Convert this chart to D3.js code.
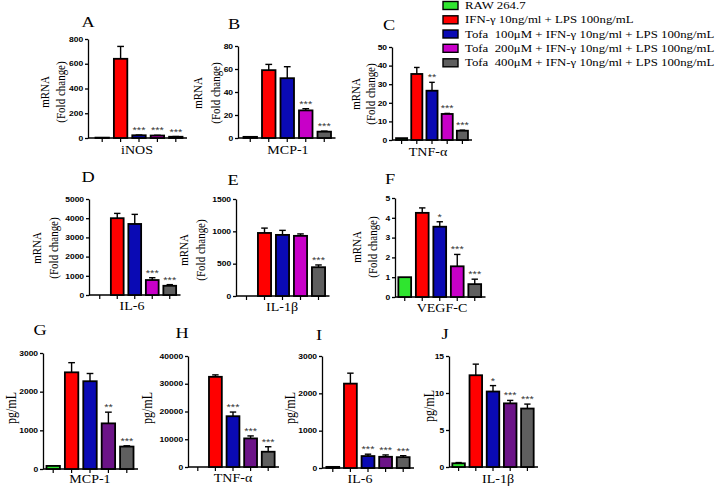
<!DOCTYPE html>
<html>
<head>
<meta charset="utf-8">
<script src="https://cdn.jsdelivr.net/npm/d3@7"></script>
<style>
  body { margin: 0; background: #fff; }
  text { white-space: pre; }
</style>
</head>
<body>
<div id="plot"></div>
<script>
// treatment groups (legend)
const groups = [
  "RAW 264.7",
  "IFN-γ 10ng/ml + LPS 100ng/mL",
  "Tofa  100μM + IFN-γ 10ng/ml + LPS 100ng/mL",
  "Tofa  200μM + IFN-γ 10ng/ml + LPS 100ng/mL",
  "Tofa  400μM + IFN-γ 10ng/ml + LPS 100ng/mL"
];

const panelIds = ["A", "B", "C", "D", "E", "F", "G", "H", "I", "J"];
const genes = ["iNOS", "MCP-1", "TNF-α", "IL-6", "IL-1β", "VEGF-C", "MCP-1", "TNF-α", "IL-6", "IL-1β"];
const units = ["mRNA", "mRNA", "mRNA", "mRNA", "mRNA", "mRNA", "pg/mL", "pg/mL", "pg/mL", "pg/mL"];
const yMax = [800, 80, 50, 5000, 1500, 5, 3000, 40000, 3000, 15];
const yStep = [200, 20, 10, 1000, 500, 1, 1000, 10000, 1000, 5];

// mean values, one row per panel, one value per group
const means = [
  [3, 640, 22, 20, 10],
  [1, 59, 52, 24, 5.5],
  [1, 35.5, 26.5, 14, 5],
  [0, 4000, 3700, 780, 480],
  [0, 975, 945, 930, 445],
  [1, 4.25, 3.55, 1.55, 0.65],
  [80, 2500, 2270, 1180, 580],
  [0, 32500, 18300, 10300, 5500],
  [30, 2260, 320, 300, 290],
  [0.5, 12.4, 10.2, 8.6, 7.9]
];
// upper error (SEM)
const sems = [
  [0, 100, 2, 2, 2],
  [0, 5, 10, 1.5, 0.5],
  [0, 3.5, 4.5, 0.3, 0.3],
  [0, 250, 500, 120, 60],
  [0, 75, 70, 30, 35],
  [0, 0.25, 0.25, 0.6, 0.25],
  [0, 250, 200, 290, 20],
  [0, 700, 1500, 900, 1800],
  [0, 280, 50, 50, 40],
  [0.1, 1.5, 0.8, 0.4, 0.6]
];
const stars = [
  ["", "", "***", "***", "***"],
  ["", "", "", "***", "***"],
  ["", "", "**", "***", "***"],
  ["", "", "", "***", "***"],
  ["", "", "", "", "***"],
  ["", "", "*", "***", "***"],
  ["", "", "", "**", "***"],
  ["", "", "***", "***", "***"],
  ["", "", "***", "***", "***"],
  ["", "", "*", "***", "***"]
];

// styles
const barColors = ["#2fe52f", "#ff0000", "#0a0ab4", "#c800c8", "#5f5f5f"];
const proteinPurple = "#6c1488";
const sx = 1.22; // the original lettering is stretched horizontally
const serif = "'Liberation Serif', 'Times New Roman', serif";
const sans = "'Liberation Sans', Arial, sans-serif";

// panel frames (pixels)
const frames = [
  { ax: 88, x0: 93, x1: 185, top: 39, bot: 138, tx: 88, ty: 27, lx: 137, ly: 154, yl: [44, 60], ym: 92 },
  { ax: 238, x0: 241, x1: 333.5, top: 46, bot: 138, tx: 234, ty: 29, lx: 288, ly: 154, yl: [197, 215], ym: 93 },
  { ax: 392, x0: 394, x1: 470, top: 47, bot: 140, tx: 389, ty: 30, lx: 428, ly: 156, yl: [355, 370], ym: 94 },
  { ax: 89, x0: 91, x1: 178.5, top: 199, bot: 295, tx: 88, ty: 182, lx: 132, ly: 310, yl: [36, 53], ym: 248 },
  { ax: 236, x0: 237.5, x1: 327.5, top: 199, bot: 296, tx: 233, ty: 185, lx: 282, ly: 311, yl: [183, 200], ym: 250 },
  { ax: 395, x0: 396, x1: 483.5, top: 198, bot: 297, tx: 390, ty: 184, lx: 442, ly: 312, yl: [356, 372], ym: 247 },
  { ax: 43, x0: 44, x1: 136, top: 353, bot: 469, tx: 40, ty: 335, lx: 90, ly: 483, yl: [10.5], ym: 408 },
  { ax: 188, x0: 189, x1: 277, top: 356, bot: 467, tx: 182, ty: 338, lx: 233, ly: 482, yl: [147], ym: 408 },
  { ax: 322, x0: 324, x1: 412, top: 356, bot: 468, tx: 319, ty: 340, lx: 360, ly: 483, yl: [290], ym: 408 },
  { ax: 449, x0: 450, x1: 536, top: 356, bot: 467, tx: 445, ty: 339, lx: 498, ly: 483, yl: [429], ym: 406 }
];

const svg = d3.select("#plot")
  .append("svg")
  .attr("width", 720)
  .attr("height", 489);

function label(parent, x, y, rot) {
  return parent.append("text")
    .attr("transform", `translate(${x},${y}) scale(${sx},1)` + (rot ? " rotate(-90)" : ""));
}

panelIds.forEach((id, i) => {
  const f = frames[i];
  const g = svg.append("g");

  const x = d3.scaleBand()
    .domain(d3.range(groups.length))
    .range([f.x0, f.x1])
    .paddingInner(0.27)
    .paddingOuter(0.135);

  const y = d3.scaleLinear()
    .domain([0, yMax[i]])
    .range([f.bot, f.top]);

  // y axis
  g.append("g")
    .attr("transform", `translate(${f.ax},0)`)
    .call(d3.axisLeft(y)
      .tickValues(d3.range(0, yMax[i] + yStep[i] / 2, yStep[i]))
      .tickSize(3)
      .tickPadding(1)
      .tickSizeOuter(0)
      .tickFormat(d3.format("d")))
    .attr("font-size", 7)
    .attr("font-family", sans)
    .attr("font-weight", "bold")
    .call(a => {
      a.selectAll("path, line").attr("stroke", "#000").attr("stroke-width", 1.3);
      a.selectAll("text").attr("fill", "#000").attr("transform", `scale(${sx},1)`);
    });

  // x axis
  g.append("line")
    .attr("x1", f.ax).attr("x2", f.x1 + 2)
    .attr("y1", f.bot).attr("y2", f.bot)
    .attr("stroke", "#000").attr("stroke-width", 1.3);

  g.selectAll(".xt")
    .data(d3.range(groups.length))
    .enter()
    .append("line")
    .attr("x1", k => x(k) + x.bandwidth() / 2)
    .attr("x2", k => x(k) + x.bandwidth() / 2)
    .attr("y1", f.bot).attr("y2", f.bot + 4)
    .attr("stroke", "#000").attr("stroke-width", 1.2);

  const rows = means[i].map((v, k) => ({ v, k, e: sems[i][k], s: stars[i][k] }));
  const color = k => (k === 3 && i >= 6) ? proteinPurple : barColors[k];

  // error bars (upper only)
  const eb = rows.filter(d => d.e > 0);
  g.selectAll(".ev")
    .data(eb)
    .enter()
    .append("line")
    .attr("x1", d => x(d.k) + x.bandwidth() / 2)
    .attr("x2", d => x(d.k) + x.bandwidth() / 2)
    .attr("y1", d => y(d.v))
    .attr("y2", d => y(d.v + d.e))
    .attr("stroke", "#000").attr("stroke-width", 1.4);

  g.selectAll(".ec")
    .data(eb)
    .enter()
    .append("line")
    .attr("x1", d => x(d.k) + x.bandwidth() * 0.25)
    .attr("x2", d => x(d.k) + x.bandwidth() * 0.75)
    .attr("y1", d => y(d.v + d.e))
    .attr("y2", d => y(d.v + d.e))
    .attr("stroke", "#000").attr("stroke-width", 1.4);

  // bars
  g.selectAll(".bar")
    .data(rows.filter(d => d.v > 0))
    .enter()
    .append("rect")
    .attr("x", d => x(d.k))
    .attr("y", d => y(d.v))
    .attr("width", x.bandwidth())
    .attr("height", d => f.bot - y(d.v))
    .attr("fill", d => color(d.k))
    .attr("stroke", "#000")
    .attr("stroke-width", 1.8);

  // significance stars
  rows.filter(d => d.s).forEach(d => {
    label(g, x(d.k) + x.bandwidth() / 2, y(d.v + d.e) - 2)
      .attr("text-anchor", "middle")
      .attr("font-family", sans)
      .attr("font-size", 9)
      .attr("fill", "#333")
      .text(d.s);
  });

  // panel letter
  label(g, f.tx, f.ty)
    .attr("text-anchor", "middle")
    .attr("font-family", serif)
    .attr("font-size", 15)
    .text(id);

  // gene label
  label(g, f.lx, f.ly)
    .attr("text-anchor", "middle")
    .attr("font-family", serif)
    .attr("font-size", 11.5)
    .text(genes[i]);

  // y label
  const lines = units[i] === "mRNA" ? ["mRNA", "(Fold change)"] : [units[i]];
  lines.forEach((t, j) => {
    label(g, f.yl[j], f.ym, true)
      .attr("text-anchor", "middle")
      .attr("dy", "0.35em")
      .attr("font-family", serif)
      .attr("font-size", units[i] === "mRNA" ? 11 : 12)
      .text(t);
  });
});

// legend
const legendY = [5.5, 19.8, 34, 48.3, 62.8];
const legend = svg.append("g");
groups.forEach((name, k) => {
  legend.append("rect")
    .attr("x", 443).attr("y", legendY[k] - 4)
    .attr("width", 15).attr("height", 8)
    .attr("fill", barColors[k])
    .attr("stroke", "#000")
    .attr("stroke-width", 1.4);
  label(legend, 465, legendY[k] + 3.6)
    .attr("font-family", serif)
    .attr("font-size", 10.5)
    .text(name);
});
</script>
</body>
</html>
